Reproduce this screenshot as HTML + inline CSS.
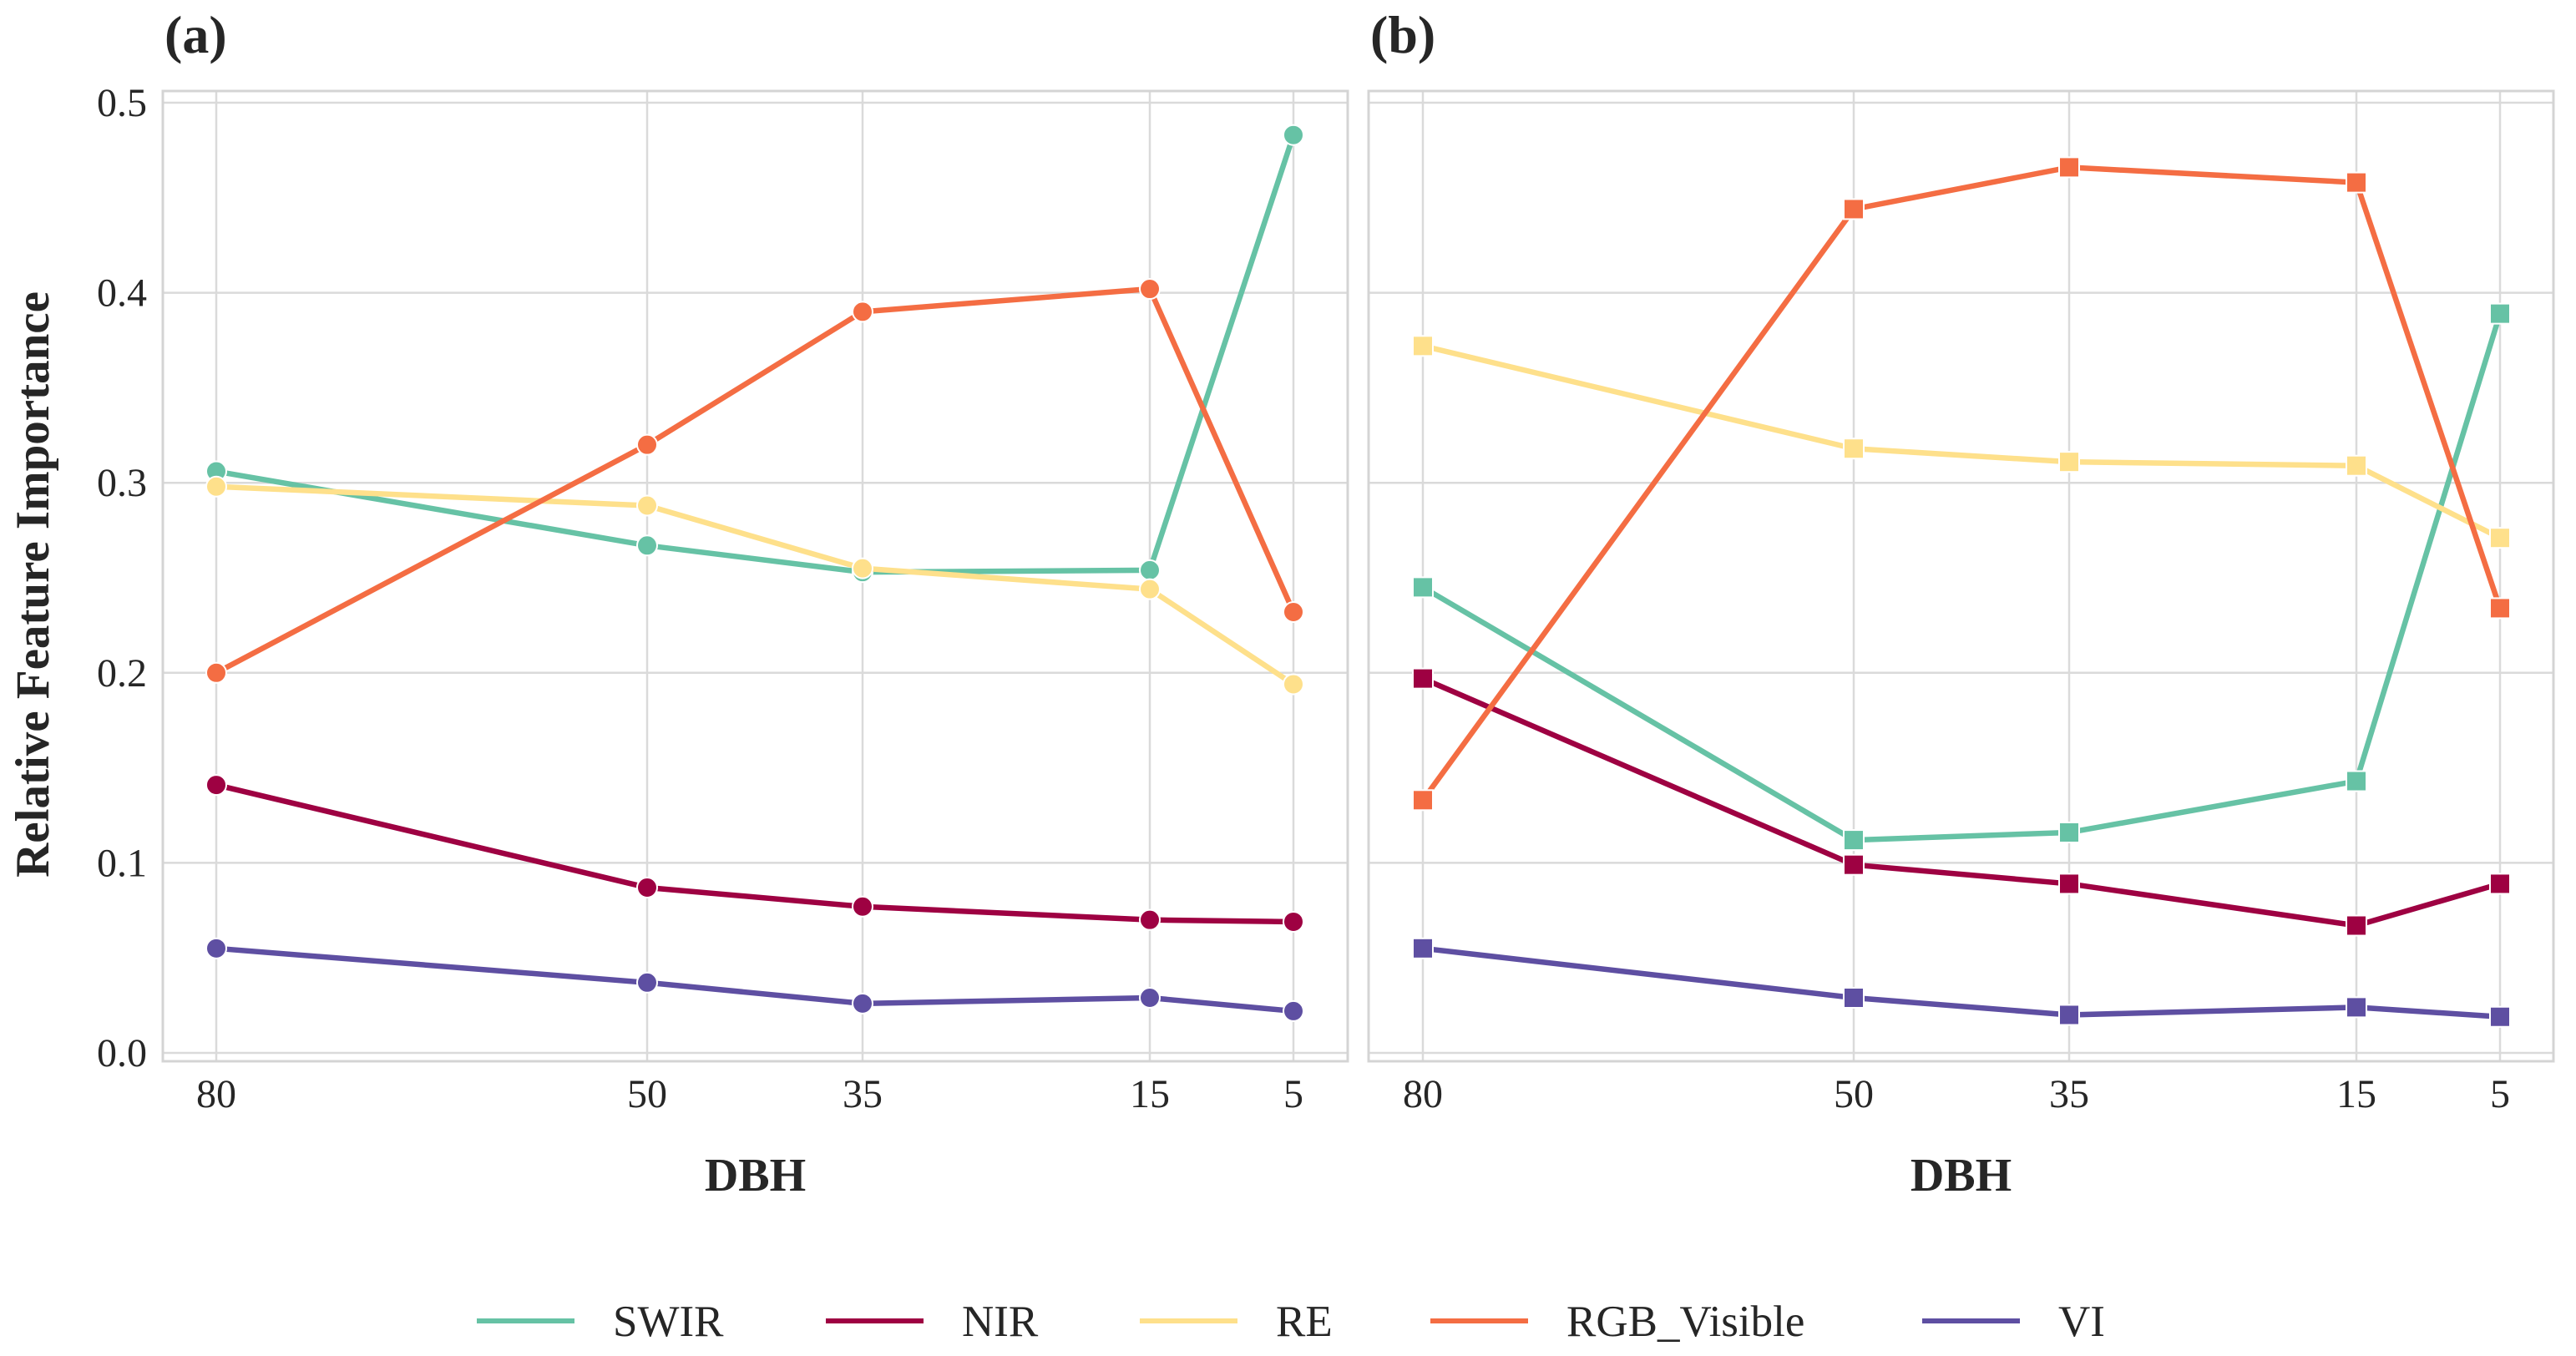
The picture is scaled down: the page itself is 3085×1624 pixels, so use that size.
<!DOCTYPE html>
<html><head><meta charset="utf-8"><style>
html,body{margin:0;padding:0;background:#fff;}
svg{display:block;font-family:"Liberation Serif",serif;}
</style></head><body>
<svg id="chart" width="3085" height="1624" xmlns="http://www.w3.org/2000/svg"></svg>
<script>
const categories=[80,50,35,15,5];
const seriesNames=["SWIR","NIR","RE","RGB_Visible","VI"];
const colors=["#66c2a5","#9e0142","#fee08b","#f46d43","#5e4fa2"];
const aSWIR=[0.306,0.267,0.253,0.254,0.483];
const aNIR=[0.141,0.087,0.077,0.070,0.069];
const aRE=[0.298,0.288,0.255,0.244,0.194];
const aRGB=[0.200,0.320,0.390,0.402,0.232];
const aVI=[0.055,0.037,0.026,0.029,0.022];
const bSWIR=[0.245,0.112,0.116,0.143,0.389];
const bNIR=[0.197,0.099,0.089,0.067,0.089];
const bRE=[0.372,0.318,0.311,0.309,0.271];
const bRGB=[0.133,0.444,0.466,0.458,0.234];
const bVI=[0.055,0.029,0.020,0.024,0.019];
const yTicks=[0.0,0.1,0.2,0.3,0.4,0.5];
const yTickLabels=["0.0","0.1","0.2","0.3","0.4","0.5"];

const NS="http://www.w3.org/2000/svg";
const svg=document.getElementById('chart');
function mk(tag,attrs,parent){const e=document.createElementNS(NS,tag);for(const k in attrs)e.setAttribute(k,attrs[k]);(parent||svg).appendChild(e);return e;}
function yScale(v){return 1261-(v/0.5)*(1261-123);}
const panels=[
 {id:'a',left:195,right:1614,x80:259,x5:1549,data:[aSWIR,aNIR,aRE,aRGB,aVI],marker:'circle'},
 {id:'b',left:1639,right:3058,x80:1704,x5:2994,data:[bSWIR,bNIR,bRE,bRGB,bVI],marker:'square'}
];
panels.forEach((p,pi)=>{
  const xs=v=>p.x80+(80-v)/75*(p.x5-p.x80);
  const g=mk('g',{});
  
  
  yTicks.forEach((t,i)=>{
    const l=mk('line',{x1:p.left,x2:p.right,y1:yScale(t),y2:yScale(t),stroke:'#dadada','stroke-width':2.5},g);
    
    
    if(pi===0){
      const tx=mk('text',{x:176,y:yScale(t)+16,'text-anchor':'end','font-size':48,fill:'#262626'},g);
      tx.textContent=yTickLabels[i];
      
      
    }
  });
  categories.forEach(c=>{
    const l=mk('line',{x1:xs(c),x2:xs(c),y1:109,y2:1271,stroke:'#dadada','stroke-width':2.5},g);
    
    
    const tx=mk('text',{x:xs(c),y:1326,'text-anchor':'middle','font-size':48,fill:'#262626'},g);
    tx.textContent=String(c);
    
    
  });
  const fr=mk('rect',{x:p.left,y:109,width:p.right-p.left,height:1271-109,fill:'none',stroke:'#d4d4d4','stroke-width':3},g);
  
  
  p.data.forEach((vals,si)=>{
    const pts=vals.map((v,i)=>xs(categories[i])+','+yScale(v)).join(' ');
    const pl=mk('polyline',{points:pts,fill:'none',stroke:colors[si],'stroke-width':6.5,'stroke-linejoin':'round'},g);
    
    
    vals.forEach((v,i)=>{
      let m;
      if(p.marker==='circle') m=mk('circle',{cx:xs(categories[i]),cy:yScale(v),r:12,fill:colors[si],stroke:'#fff','stroke-width':2},g);
      else m=mk('rect',{x:xs(categories[i])-12,y:yScale(v)-12,width:24,height:24,fill:colors[si],stroke:'#fff','stroke-width':2},g);
      
      
    });
  });
  const xt=mk('text',{x:(p.left+p.right)/2,y:1426,'text-anchor':'middle','font-size':56,'font-weight':'bold',fill:'#262626'},g);
  xt.textContent='DBH';
  
  
  const pt=mk('text',{x:p.left+2,y:63,'font-size':64,'font-weight':'bold',fill:'#262626'},g);
  pt.textContent='('+p.id+')';
  
  
});
const yt=mk('text',{x:0,y:0,transform:'translate(58,700) rotate(-90)','text-anchor':'middle','font-size':57,'font-weight':'bold',fill:'#262626'});
yt.textContent='Relative Feature Importance';


const legX=[571,989,1365,1713,2302];
const lg=mk('g',{});


seriesNames.forEach((n,i)=>{
  const e=mk('g',{},lg);
  
  
  mk('line',{x1:legX[i],x2:legX[i]+117,y1:1582,y2:1582,stroke:colors[i],'stroke-width':6},e);
  const t=mk('text',{x:legX[i]+163,y:1600,'font-size':53,fill:'#262626'},e);
  t.textContent=n;
});
</script>
</body></html>
